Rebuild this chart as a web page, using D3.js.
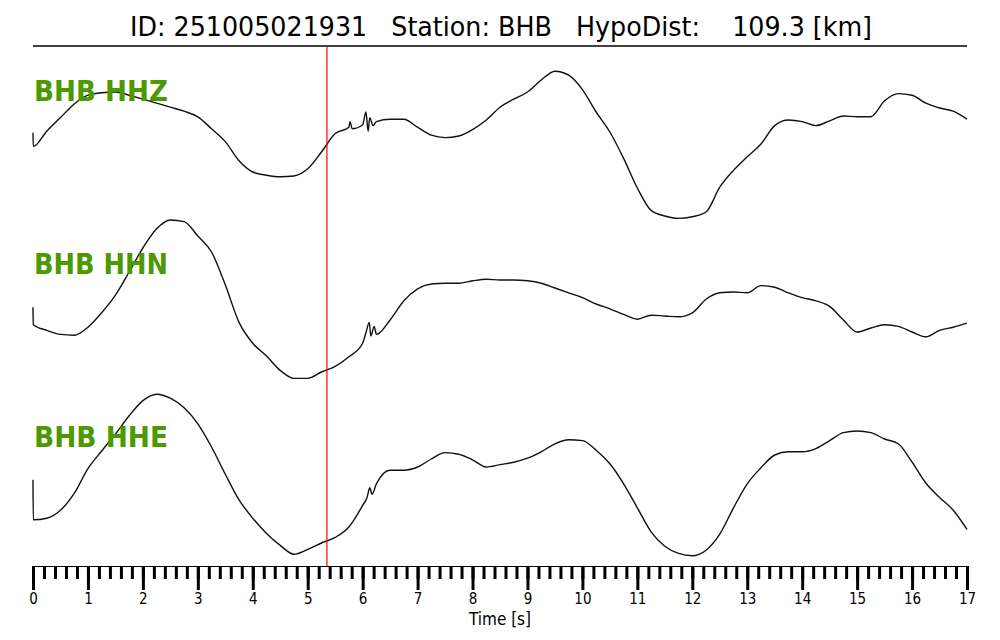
<!DOCTYPE html>
<html>
<head>
<meta charset="utf-8">
<script src="https://cdn.jsdelivr.net/npm/d3@7"></script>
<style>
  body { margin: 0; background: #fff; }
  svg { display: block; }
  text { font-family: "DejaVu Sans Condensed", "DejaVu Sans", sans-serif; }
</style>
</head>
<body>
<svg width="1000" height="640"></svg>
<script>
// time grid (s) and traces, amplitude normalised to the largest trace
var times = d3.range(0, 17.001, 0.25);

var ampZ = [-0.03, 0.16, 0.33, 0.50, 0.61, 0.64, 0.65, 0.61, 0.56, 0.51, 0.46, 0.41, 0.34, 0.19, 0.03, -0.21,
  -0.35, -0.39, -0.41, -0.40, -0.31, -0.10, 0.13, 0.21, 0.24, 0.28, 0.31, 0.31, 0.21, 0.11, 0.08, 0.10,
  0.18, 0.30, 0.46, 0.56, 0.65, 0.80, 0.91, 0.86, 0.68, 0.40, 0.15, -0.18, -0.55, -0.83, -0.90, -0.93,
  -0.91, -0.85, -0.54, -0.33, -0.16, 0.00, 0.23, 0.30, 0.28, 0.23, 0.29, 0.35, 0.34, 0.34, 0.54, 0.63,
  0.61, 0.51, 0.45, 0.41, 0.31];
var ampN = [-0.31, -0.38, -0.43, -0.44, -0.34, -0.16, 0.06, 0.35, 0.65, 0.89, 1.00, 0.98, 0.80, 0.60, 0.19, -0.28,
  -0.54, -0.70, -0.88, -0.98, -0.98, -0.90, -0.83, -0.71, -0.54, -0.43, -0.25, -0.01, 0.14, 0.20, 0.21, 0.21,
  0.24, 0.26, 0.25, 0.25, 0.24, 0.21, 0.15, 0.09, 0.03, -0.05, -0.11, -0.18, -0.24, -0.19, -0.20, -0.21,
  -0.16, 0.01, 0.09, 0.10, 0.09, 0.18, 0.16, 0.09, 0.03, -0.01, -0.08, -0.25, -0.40, -0.35, -0.31, -0.33,
  -0.40, -0.46, -0.38, -0.34, -0.29];
var ampE = [-0.56, -0.54, -0.44, -0.23, 0.08, 0.30, 0.51, 0.74, 0.93, 1.01, 0.96, 0.84, 0.64, 0.35, 0.01, -0.31,
  -0.54, -0.73, -0.88, -0.99, -0.93, -0.85, -0.78, -0.65, -0.38, -0.11, 0.06, 0.06, 0.10, 0.20, 0.28, 0.26,
  0.19, 0.10, 0.13, 0.16, 0.21, 0.29, 0.39, 0.44, 0.43, 0.31, 0.14, -0.11, -0.41, -0.71, -0.89, -0.98,
  -1.01, -0.94, -0.74, -0.41, -0.11, 0.09, 0.25, 0.29, 0.29, 0.33, 0.43, 0.53, 0.55, 0.53, 0.45, 0.39,
  0.16, -0.10, -0.28, -0.44, -0.68];

// first sample (instrument step) and the wiggles just after the P pick
var startZ = 0.14, startN = -0.09, startE = -0.06;
var burstTimesZ = [5.77, 5.81, 6.06, 6.10, 6.13, 6.19];
var burstZ = [0.28, 0.19, 0.40, 0.16, 0.33, 0.23];
var burstTimesN = [6.06, 6.12, 6.15, 6.21];
var burstN = [-0.41, -0.28, -0.45, -0.33];
var burstTimesE = [6.08, 6.13, 6.17];
var burstE = [-0.28, -0.16, -0.24];

var channels = ["BHB HHZ", "BHB HHN", "BHB HHE"];
var pickTime = 5.35;
var tickMajor = d3.range(0, 17.001, 1);
var tickMinor = d3.range(0, 17.001, 0.2);

var svg = d3.select("svg");

var x = d3.scaleLinear().domain([0, 17]).range([33, 967]);
var centers = [144, 300, 475];

function buildTrace(start, amp, bt, bv) {
  var pts = [[0, start]];
  times.forEach(function(t, i) { pts.push([t === 0 ? 0.005 : t, amp[i]]); });
  bt.forEach(function(t, i) { pts.push([t, bv[i]]); });
  pts.sort(function(a, b) { return a[0] - b[0]; });
  return pts;
}

var traces = [
  buildTrace(startZ, ampZ, burstTimesZ, burstZ),
  buildTrace(startN, ampN, burstTimesN, burstN),
  buildTrace(startE, ampE, burstTimesE, burstE)
];

// title
svg.append("text")
  .attr("x", 501).attr("y", 36)
  .attr("text-anchor", "middle")
  .attr("font-size", 26)
  .attr("textLength", 742)
  .attr("lengthAdjust", "spacingAndGlyphs")
  .style("white-space", "pre")
  .text("ID: 251005021931   Station: BHB   HypoDist:    109.3 [km]");

svg.append("line")
  .attr("x1", x(0)).attr("x2", x(17))
  .attr("y1", 46).attr("y2", 46)
  .attr("stroke", "#000").attr("stroke-width", 1.5);

traces.forEach(function(pts, i) {
  var y = d3.scaleLinear().domain([-1, 1]).range([centers[i] + 80, centers[i] - 80]);
  var line = d3.line()
    .x(function(d) { return x(d[0]); })
    .y(function(d) { return y(d[1]); })
    .curve(d3.curveMonotoneX);
  svg.append("path")
    .attr("d", line(pts))
    .attr("fill", "none")
    .attr("stroke", "#111")
    .attr("stroke-width", 1.4);
});

var labelY = [101, 274, 447];
channels.forEach(function(c, i) {
  svg.append("text")
    .attr("x", 34).attr("y", labelY[i])
    .attr("font-family", "DejaVu Sans")
    .attr("font-weight", "bold")
    .attr("font-size", 28)
    .attr("textLength", 134)
    .attr("lengthAdjust", "spacingAndGlyphs")
    .attr("fill", "#4c9900")
    .text(c);
});

// P pick
svg.append("line")
  .attr("x1", x(pickTime)).attr("x2", x(pickTime))
  .attr("y1", 47).attr("y2", 566)
  .attr("stroke", "#ff0000").attr("stroke-width", 1.2);

// time axis
var minorAxis = d3.axisBottom(x).tickValues(tickMinor).tickSize(13).tickSizeOuter(0).tickFormat("");
var majorAxis = d3.axisBottom(x).tickValues(tickMajor).tickSize(24).tickSizeOuter(0).tickPadding(3)
  .tickFormat(d3.format("d"));

var gMinor = svg.append("g").attr("transform", "translate(0,566)").call(minorAxis);
var gMajor = svg.append("g").attr("transform", "translate(0,566)").call(majorAxis);
svg.selectAll(".tick line").attr("stroke", "#000").attr("stroke-width", 3);
svg.selectAll(".domain").attr("stroke", "#000").attr("stroke-width", 1.2);
gMajor.selectAll("text").attr("font-size", 15).attr("fill", "#000")
  .attr("font-family", "DejaVu Sans Condensed, DejaVu Sans");

svg.append("text")
  .attr("x", 500).attr("y", 625)
  .attr("text-anchor", "middle")
  .attr("font-size", 17)
  .text("Time [s]");
</script>
</body>
</html>
